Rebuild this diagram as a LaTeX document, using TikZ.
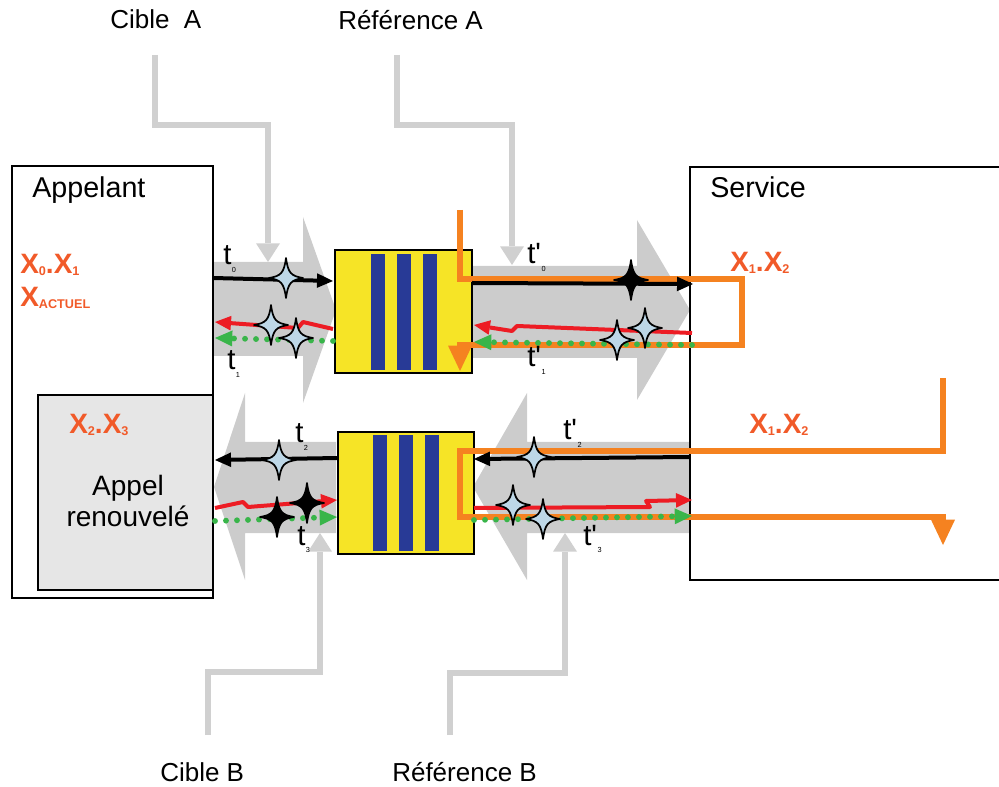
\documentclass[tikz,border=0pt]{standalone}
\usepackage{fontspec}
\setmainfont{Liberation Sans}
\usetikzlibrary{arrows.meta,calc,fit}
\definecolor{ygold}{RGB}{246,228,38}
\definecolor{bblue}{RGB}{40,58,150}
\definecolor{agray}{RGB}{204,204,204}
\definecolor{lgray}{RGB}{208,208,208}
\definecolor{boxgray}{RGB}{230,230,230}
\definecolor{forange}{RGB}{245,130,32}
\definecolor{xorange}{RGB}{241,90,41}
\definecolor{fred}{RGB}{237,28,36}
\definecolor{fgreen}{RGB}{57,181,74}
\definecolor{starblue}{RGB}{189,215,231}
\newcommand\xsub[1]{\raisebox{-1.5pt}{\fontsize{9.5}{9.5}\selectfont #1}}
\newcommand\tq{t\textquotesingle}
\begin{document}
\begin{tikzpicture}[x=0.75pt,y=-0.75pt,
  lbl/.style={font=\fontsize{19.5}{20}\selectfont, inner sep=0, anchor=base west},
  big/.style={font=\fontsize{21.5}{22}\selectfont, inner sep=0, anchor=base west},
  xlab/.style={text=xorange, font=\bfseries\fontsize{21}{21}\selectfont, inner sep=0, anchor=base west},
  tlab/.style={font=\fontsize{22}{22}\selectfont, inner sep=0, anchor=base west},
  tsub/.style={font=\fontsize{5.5}{5.5}\selectfont, inner sep=0, anchor=west},
  grayline/.style={draw=lgray, line width=4.2pt, -{Triangle[length=14pt,width=18pt,line width=0pt]}},
  bigarrow/.style={fill=agray},
  ybox/.style={draw=black, fill=ygold, line width=1.1pt, inner sep=0},
  bar/.style={fill=bblue},
  wbox/.style={draw=black, line width=1.1pt, inner sep=0},
  blackarr/.style={draw=black, line width=3pt, -{Triangle[length=12pt,width=11pt,line width=0pt]}},
  redarr/.style={draw=fred, line width=3pt, line join=round, -{Triangle[length=12pt,width=11pt,line width=0pt]}},
  greenarr/.style={draw=fgreen, line width=4.4pt, line cap=round, dash pattern=on 0pt off 8.25pt, -{Triangle[length=13pt,width=12pt,line width=0pt]}},
  orangearr/.style={draw=forange, line width=3.8pt, line join=miter, -{Triangle[length=19pt,width=18pt,line width=0pt]}},
  pics/fstar/.style={code={\filldraw[fill=#1, draw=black, line width=1.3pt, line join=round]
     (0,-20) .. controls (2,-5) and (5,-2) .. (17,0)
     .. controls (5,2) and (2,5) .. (0,20)
     .. controls (-2,5) and (-5,2) .. (-17,0)
     .. controls (-5,-2) and (-2,-5) .. cycle;}}
]
\useasboundingbox (0,0) rectangle (999,787);
\clip (0,0) rectangle (999,787);

% ---------- gray L-shaped pointer arrows ----------
\coordinate (cA0) at (155,55);  \coordinate (cA1) at (155,125); \coordinate (cA2) at (268,125); \coordinate (cAt) at (268,262);
\coordinate (rA0) at (397,55);  \coordinate (rA1) at (397,125); \coordinate (rA2) at (512,125); \coordinate (rAt) at (512,265);
\coordinate (cB0) at (208,735); \coordinate (cB1) at (208,672); \coordinate (cB2) at (320,672); \coordinate (cBt) at (320,533);
\coordinate (rB0) at (450,735); \coordinate (rB1) at (450,673); \coordinate (rB2) at (565,673); \coordinate (rBt) at (565,533);
\draw[grayline] (cA0) -- (cA1) -- (cA2) -- (cAt);
\draw[grayline] (rA0) -- (rA1) -- (rA2) -- (rAt);
\draw[grayline] (cB0) -- (cB1) -- (cB2) -- (cBt);
\draw[grayline] (rB0) -- (rB1) -- (rB2) -- (rBt);

% ---------- big gray arrows ----------
\fill[bigarrow] (213,262) -- (303,262) -- (303,217) -- (336,310) -- (303,403) -- (303,356) -- (213,356) -- cycle;
\fill[bigarrow] (472,266) -- (637,266) -- (637,220) -- (690,310) -- (637,400) -- (637,358) -- (472,358) -- cycle;
\fill[bigarrow] (336,442) -- (245,442) -- (245,393) -- (214,487) -- (245,580) -- (245,533) -- (336,533) -- cycle;
\fill[bigarrow] (690,442) -- (527,442) -- (527,393) -- (473,487) -- (527,580) -- (527,533) -- (690,533) -- cycle;

% ---------- yellow queues ----------
\node[ybox, fit={(335,250) (472,373)}] (q1) {};
\fill[bar] (371,254) rectangle (385,370);
\fill[bar] (397,254) rectangle (411,370);
\fill[bar] (423,254) rectangle (437,370);
\node[ybox, fit={(338,432) (474,554)}] (q2) {};
\fill[bar] (373,435) rectangle (387,551);
\fill[bar] (399,435) rectangle (413,551);
\fill[bar] (425,435) rectangle (439,551);

% ---------- main boxes ----------
\node[wbox, fit={(12,166) (213,598)}] (appelant) {};
\node[wbox, fill=boxgray, fit={(38,395) (213,590)}] (renouv) {};
\node[wbox, fit={(690,167) (1010,580)}] (service) {};

% ---------- orange loops ----------
\coordinate (o1) at (460,210); \coordinate (o2) at (460,279); \coordinate (o3) at (742,279);
\coordinate (o4) at (742,345); \coordinate (o5) at (460,345); \coordinate (o6) at (460,371);
\draw[orangearr] (o1) -- (o2) -- (o3) -- (o4) -- (o5) -- (o6);
\coordinate (p1) at (943,378); \coordinate (p2) at (943,451); \coordinate (p3) at (460,451);
\coordinate (p4) at (460,517); \coordinate (p5) at (943,517); \coordinate (p6) at (943,545);
\draw[orangearr] (p1) -- (p2) -- (p3) -- (p4) -- (p5) -- (p6);

% ---------- black arrows ----------
\coordinate (k1s) at (213,278); \coordinate (k1e) at (333,281);
\coordinate (k2s) at (472,283); \coordinate (k2e) at (693,284);
\coordinate (k3s) at (338,458); \coordinate (k3e) at (215,460);
\coordinate (k4s) at (690,457); \coordinate (k4e) at (474,459);
\draw[blackarr] (k1s) -- (k1e);
\draw[blackarr] (k2s) -- (k2e);
\draw[blackarr] (k3s) -- (k3e);
\draw[blackarr] (k4s) -- (k4e);

% ---------- red lightning arrows ----------
\coordinate (r1s) at (333,329); \coordinate (r1e) at (215,322);
\coordinate (r2s) at (692,333); \coordinate (r2e) at (474,325);
\coordinate (r3s) at (215,508); \coordinate (r3e) at (337,500);
\coordinate (r4s) at (474,508); \coordinate (r4e) at (692,500);
\draw[redarr] (r1s) -- (303,322) -- (298,328) -- (r1e);
\draw[redarr] (r2s) -- (517,326) -- (512,331) -- (r2e);
\draw[redarr] (r3s) -- (243,502) -- (248,507) -- (r3e);
\draw[redarr] (r4s) -- (650,507) -- (646,501) -- (r4e);

% ---------- green dotted arrows ----------
\coordinate (g1s) at (333,341); \coordinate (g1e) at (215,338);
\coordinate (g2s) at (692,345); \coordinate (g2e) at (474,342);
\coordinate (g3s) at (215,521); \coordinate (g3e) at (337,517);
\coordinate (g4s) at (474,520); \coordinate (g4e) at (692,516);
\draw[greenarr] (g1s) -- (g1e);
\draw[greenarr] (g2s) -- (g2e);
\draw[greenarr] (g3s) -- (g3e);
\draw[greenarr] (g4s) -- (g4e);

% ---------- stars ----------
\pic at (286,278) {fstar=starblue};
\pic at (271,325) {fstar=starblue};
\pic at (296,338) {fstar=starblue};
\pic at (631,280) {fstar=black};
\pic at (617,340) {fstar=starblue};
\pic at (645,328) {fstar=starblue};
\pic at (279,460) {fstar=starblue};
\pic at (307,503) {fstar=black};
\pic at (277,517) {fstar=black};
\pic at (534,457) {fstar=starblue};
\pic at (513,505) {fstar=starblue};
\pic at (543,519) {fstar=starblue};

% ---------- texts ----------
\node[lbl] (lcA) at (110,29) {Cible\ \ A};
\node[lbl] (lrA) at (338,30) {Référence A};
\node[lbl] (lcB) at (160,781) {Cible B};
\node[lbl] (lrB) at (392,781) {Référence B};
\node[big] (tapp) at (32,198) {Appelant};
\node[big] (tser) at (710,198) {Service};
\node[font=\fontsize{21}{22.5}\selectfont, anchor=base, inner sep=0] (tren1) at (128,495) {Appel};
\node[font=\fontsize{21}{22.5}\selectfont, anchor=base, inner sep=0] (tren2) at (128,526) {renouvelé};

\node[xlab] (x01) at (20,274) {X\xsub{0}.X\xsub{1}};
\node[xlab] (xact) at (20,307) {X\xsub{ACTUEL}};
\node[xlab] (x12a) at (730,272) {X\xsub{1}.X\xsub{2}};
\node[xlab] (x12b) at (749,434) {X\xsub{1}.X\xsub{2}};
\node[xlab] (x23) at (69,434) {X\xsub{2}.X\xsub{3}};

\node[tlab] (t0) at (223,265) {t};   \node[tsub] (t0s) at (t0.base east) [yshift=-4pt] {0};
\node[tlab] (t1) at (227,370) {t};   \node[tsub] (t1s) at (t1.base east) [yshift=-4pt] {1};
\node[tlab] (t2) at (295,443) {t};   \node[tsub] (t2s) at (t2.base east) [yshift=-4pt] {2};
\node[tlab] (t3) at (297,545) {t};   \node[tsub] (t3s) at (t3.base east) [yshift=-4pt] {3};
\node[tlab] (tp0) at (527,264) {\tq}; \node[tsub] (tp0s) at (tp0.base east) [yshift=-4pt] {0};
\node[tlab] (tp1) at (527,367) {\tq}; \node[tsub] (tp1s) at (tp1.base east) [yshift=-4pt] {1};
\node[tlab] (tp2) at (563,440) {\tq}; \node[tsub] (tp2s) at (tp2.base east) [yshift=-4pt] {2};
\node[tlab] (tp3) at (583,545) {\tq}; \node[tsub] (tp3s) at (tp3.base east) [yshift=-4pt] {3};
\end{tikzpicture}
\end{document}
